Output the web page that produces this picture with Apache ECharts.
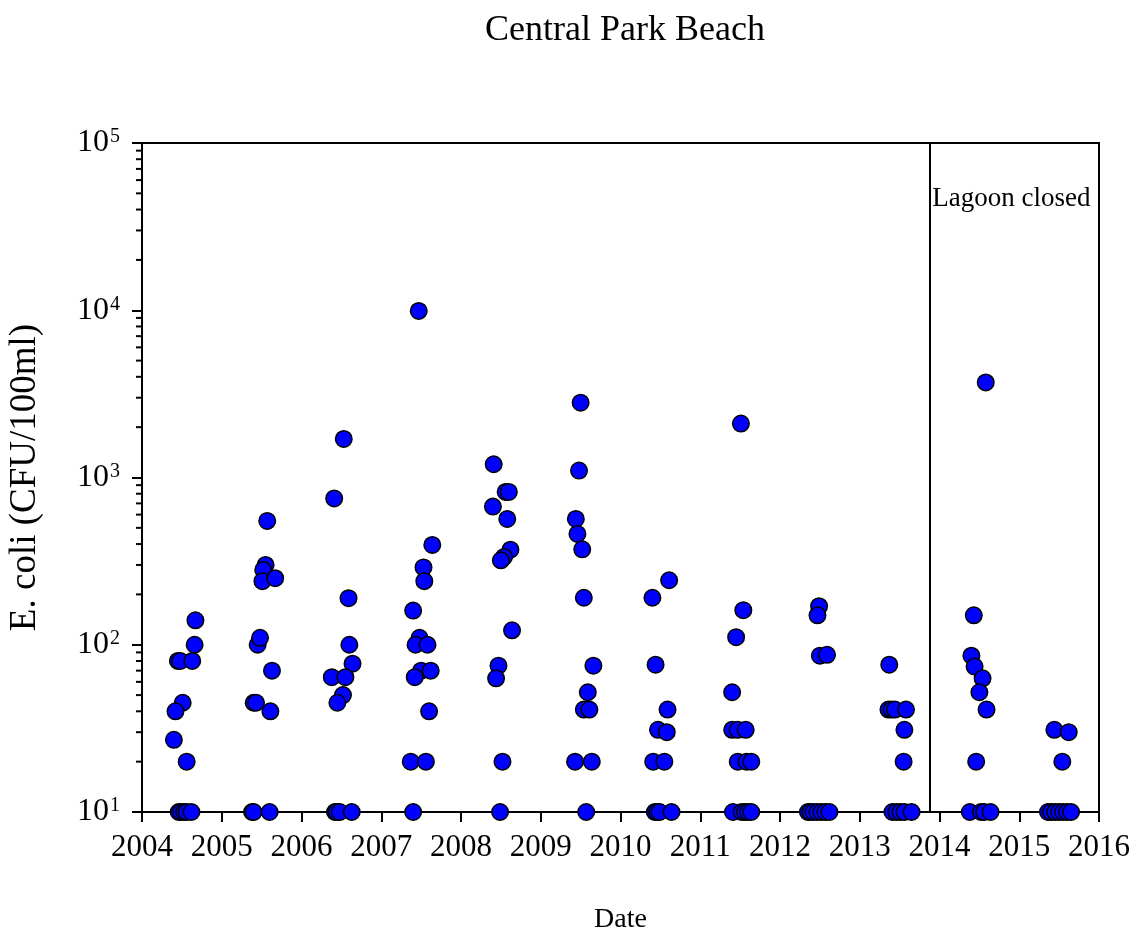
<!DOCTYPE html>
<html>
<head>
<meta charset="utf-8">
<script src="https://cdn.jsdelivr.net/npm/echarts@6/dist/echarts.min.js"></script>
<style>html,body{margin:0;padding:0;background:#fff}#c{width:1129px;height:932px}</style>
</head>
<body>
<div id="c"></div>
<script>
// Sample dates (decimal years) and E. coli values (CFU/100ml)
const sampleDates = [
  2004.67,2004.66,2004.45,2004.48,2004.63,2004.51,2004.42,2004.40,2004.56,2004.46,2004.49,2004.53,2004.56,2004.62,
  2005.57,2005.55,2005.52,2005.51,2005.67,2005.45,2005.48,2005.63,2005.40,2005.43,2005.61,2005.38,2005.40,2005.60,
  2006.41,2006.53,2006.59,2006.60,2006.64,2006.38,2006.55,2006.52,2006.45,2006.42,2006.44,2006.48,2006.63,
  2007.47,2007.64,2007.53,2007.54,2007.40,2007.48,2007.43,2007.58,2007.50,2007.62,2007.42,2007.60,2007.37,2007.56,2007.40,
  2008.41,2008.40,2008.56,2008.60,2008.58,2008.62,2008.54,2008.50,2008.64,2008.47,2008.44,2008.52,2008.49,
  2009.50,2009.48,2009.44,2009.46,2009.52,2009.54,2009.66,2009.59,2009.54,2009.61,2009.43,2009.64,2009.57,
  2010.40,2010.61,2010.44,2010.59,2010.47,2010.58,2010.41,2010.55,2010.43,2010.46,2010.49,2010.64,
  2011.51,2011.54,2011.45,2011.40,2011.40,2011.47,2011.57,2011.47,2011.58,2011.64,2011.41,2011.52,2011.56,2011.60,2011.64,
  2012.49,2012.47,2012.50,2012.59,2012.35,2012.38,2012.42,2012.47,2012.52,2012.57,2012.62,
  2013.37,2013.36,2013.40,2013.44,2013.58,2013.56,2013.55,2013.41,2013.46,2013.51,2013.56,2013.65,
  2014.58,2014.43,2014.40,2014.44,2014.54,2014.50,2014.59,2014.46,2014.38,2014.52,2014.56,2014.64,
  2015.44,2015.62,2015.54,2015.36,2015.40,2015.45,2015.50,2015.55,2015.60,2015.65
];
const ecoliValues = [
  140,100,80,80,80,45,40,27,20,10,10,10,10,10,
  550,300,280,240,250,100,110,70,45,45,40,10,10,10,
  750,1700,190,100,77,64,64,50,45,10,10,10,10,
  9900,395,290,240,160,110,100,100,70,70,64,40,20,20,10,
  1200,670,820,820,565,370,335,320,122,75,63,20,10,
  2800,1100,565,460,372,191,75,52,41,41,20,20,10,
  191,243,76,41,31,30,20,20,10,10,10,10,
  2100,161,111,52,31,31,31,20,20,20,10,10,10,10,10,
  170,150,86,87,10,10,10,10,10,10,10,
  76,41,41,41,41,31,20,10,10,10,10,10,
  3700,150,86,74,63,52,41,20,10,10,10,10,
  31,30,20,10,10,10,10,10,10,10
];
const yearTicks = [2004,2005,2006,2007,2008,2009,2010,2011,2012,2013,2014,2015,2016];
const minorTickValues = [20,30,40,50,60,70,80,90,200,300,400,500,600,700,800,900,
  2000,3000,4000,5000,6000,7000,8000,9000,20000,30000,40000,50000,60000,70000,80000,90000];
const lagoonClosedDate = 2013.875;
const lagoonLabel = 'Lagoon closed';

const FONT = "'Liberation Serif','Times New Roman',serif";
const points = sampleDates.map((d, i) => [d, ecoliValues[i]]);

const chart = echarts.init(document.getElementById('c'), null, {renderer: 'canvas'});
chart.setOption({
  backgroundColor: '#fff',
  animation: false,
  title: {
    text: 'Central Park Beach', left: 620, top: 8, textAlign: 'center',
    textStyle: {fontFamily: FONT, fontSize: 36, fontWeight: 'normal', color: '#000'}
  },
  grid: {left: 142, right: 30, top: 143, bottom: 120, containLabel: false, outerBoundsMode: 'none',
    show: true, borderColor: '#000', borderWidth: 2, backgroundColor: 'transparent'},
  xAxis: {
    type: 'value', min: 2004, max: 2016, interval: 1,
    name: 'Date', nameLocation: 'middle', nameGap: 94,
    nameTextStyle: {fontFamily: FONT, fontSize: 28, color: '#000'},
    axisLine: {lineStyle: {color: '#000', width: 2}},
    axisTick: {inside: false, length: 10, lineStyle: {color: '#000', width: 2}},
    axisLabel: {fontFamily: FONT, fontSize: 31, color: '#000', margin: 20, formatter: v => String(v)},
    splitLine: {show: false}
  },
  yAxis: {
    type: 'log', logBase: 10, min: 10, max: 100000,
    name: 'E. coli (CFU/100ml)', nameLocation: 'middle', nameGap: 98, nameRotate: 90,
    nameTextStyle: {fontFamily: FONT, fontSize: 37, color: '#000'},
    axisLine: {lineStyle: {color: '#000', width: 2}},
    axisTick: {inside: false, length: 10, lineStyle: {color: '#000', width: 2}},
    axisLabel: {
      margin: 22, color: '#000',
      formatter: v => '{b|10}{s|' + Math.round(Math.log10(v)) + '}',
      rich: {
        b: {fontFamily: FONT, fontSize: 32, color: '#000'},
        s: {fontFamily: FONT, fontSize: 20, color: '#000', verticalAlign: 'top', padding: [0, 0, 12, 1]}
      }
    },
    splitLine: {show: false}
  },
  series: [
    {
      type: 'custom', silent: true, clip: false, z: 1,
      data: minorTickValues.map(v => [2004, v]),
      encode: {x: 0, y: 1},
      renderItem: (params, api) => {
        const p = api.coord([api.value(0), api.value(1)]);
        return {type: 'line', shape: {x1: p[0] - 6, y1: p[1], x2: p[0], y2: p[1]}, style: {stroke: '#000', lineWidth: 2}};
      }
    },
    {
      type: 'scatter', data: points, symbol: 'circle', symbolSize: 16.5, clip: false, z: 3,
      itemStyle: {color: '#0000ff', borderColor: '#000', borderWidth: 1.5, opacity: 1},
      markLine: {
        silent: true, symbol: 'none', animation: false,
        lineStyle: {color: '#000', width: 2, type: 'solid'},
        label: {show: false},
        data: [{xAxis: lagoonClosedDate}]
      },
      markPoint: {
        silent: true, symbol: 'circle', symbolSize: 0,
        data: [{coord: [2014.9, 46000], value: lagoonLabel}],
        label: {show: true, position: 'inside', formatter: lagoonLabel, fontFamily: FONT, fontSize: 27, color: '#000'}
      }
    }
  ]
});
</script>
</body>
</html>
